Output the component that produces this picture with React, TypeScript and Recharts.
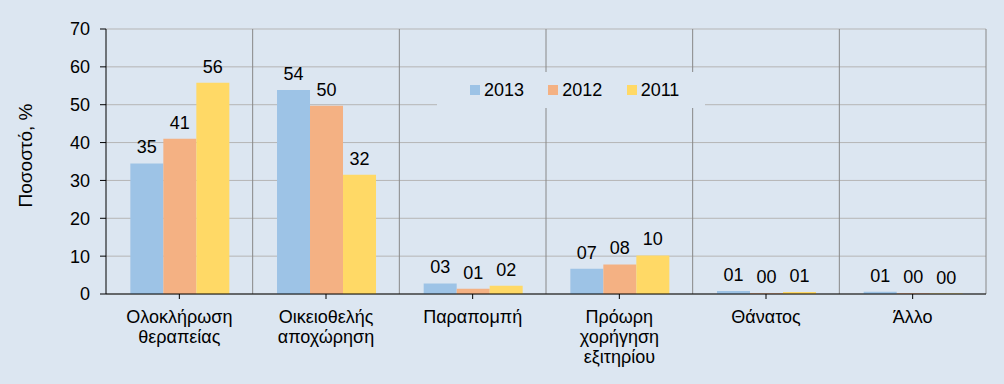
import { BarChart, Bar, XAxis, YAxis, CartesianGrid, Legend, LabelList, ReferenceLine } from "recharts";

const categories = [
  "Ολοκλήρωση\nθεραπείας",
  "Οικειοθελής\nαποχώρηση",
  "Παραπομπή",
  "Πρόωρη\nχορήγηση\nεξιτηρίου",
  "Θάνατος",
  "Άλλο",
];
const values2013 = [34.5, 53.9, 2.8, 6.7, 0.8, 0.6];
const values2012 = [41.0, 49.7, 1.4, 7.8, 0.2, 0.2];
const values2011 = [55.8, 31.5, 2.2, 10.2, 0.5, 0.1];
const yTicks = [0, 10, 20, 30, 40, 50, 60, 70];

const series = [
  { key: "y2013", name: "2013", color: "#9dc3e6", values: values2013 },
  { key: "y2012", name: "2012", color: "#f4b183", values: values2012 },
  { key: "y2011", name: "2011", color: "#ffd966", values: values2011 },
];

const table = categories.map((name, i) => {
  const row: Record<string, any> = { name, pos: i + 0.5 };
  series.forEach((s) => (row[s.key] = s.values[i]));
  return row;
});

const bg = "#dce6f1";
const font = "'Liberation Sans', Arial, sans-serif";

const fmt = (v: any) => String(Math.round(Number(v))).padStart(2, "0");

function CategoryTick({ x, y, payload }: any) {
  const lines = String(payload.value).split("\n");
  return (
    <g transform={`translate(${x},${y})`}>
      <text textAnchor="middle" fontSize={18} fill="#000" fontFamily={font}>
        {lines.map((l, i) => (
          <tspan key={i} x={0} dy={i === 0 ? 22 : 20}>
            {l}
          </tspan>
        ))}
      </text>
    </g>
  );
}

function LegendBox({ payload }: any) {
  const order = series.map((s) => s.name);
  const items = [...(payload || [])].sort((a: any, b: any) => order.indexOf(a.value) - order.indexOf(b.value));
  return (
    <div style={{ display: "flex", alignItems: "center", height: "100%", paddingLeft: 33, background: bg }}>
      {items.map((p: any) => (
        <div key={p.value} style={{ display: "flex", alignItems: "center", width: 87 }}>
          <span style={{ width: 10, height: 10, background: p.color, marginRight: 4 }} />
          <span style={{ fontSize: 18, color: "#000", fontFamily: font }}>{p.value}</span>
        </div>
      ))}
    </div>
  );
}

function AxisTitle({ viewBox }: any) {
  const cx = viewBox.x + 25;
  const cy = viewBox.y + viewBox.height / 2 - 6;
  return (
    <text x={cx} y={cy} transform={`rotate(-90 ${cx} ${cy})`} textAnchor="middle" dominantBaseline="central" fontSize={19} fontFamily={font} fill="#000">
      Ποσοστό, %
    </text>
  );
}

export default function App() {
  return (
    <div style={{ position: "absolute", left: 0, top: 0, width: 1004, height: 384, background: bg }}>
      <BarChart
        width={1004}
        height={384}
        data={table}
        margin={{ top: 29, right: 18, bottom: 60, left: 0 }}
        barCategoryGap="16.6%"
        barGap={0}
      >
        <CartesianGrid vertical={false} stroke="#b5b5b5" />
        <XAxis
          dataKey="name"
          interval={0}
          height={30}
          tick={<CategoryTick />}
          tickSize={5}
          stroke="#000"
          axisLine={{ stroke: "#000" }}
          tickLine={{ stroke: "#000" }}
        />
        <XAxis xAxisId="grid" type="number" dataKey="pos" domain={[0, categories.length]} hide />
        <YAxis
          width={106}
          domain={[0, 70]}
          ticks={yTicks}
          interval={0}
          tickSize={6}
          tickMargin={10}
          stroke="#000"
          tick={{ fill: "#000", fontSize: 18, fontFamily: font }}
          label={<AxisTitle />}
        />
        {categories.map((_, i) => (
          <ReferenceLine key={i} xAxisId="grid" x={i + 1} stroke="#888" />
        ))}
        <Legend
          layout="horizontal"
          verticalAlign="middle"
          align="center"
          content={<LegendBox />}
          wrapperStyle={{ position: "absolute", left: 437, top: 72, width: 268, height: 36, padding: 0 }}
        />
        {series.map((s) => (
          <Bar key={s.key} dataKey={s.key} name={s.name} fill={s.color} isAnimationActive={false}>
            <LabelList dataKey={s.key} position="top" offset={10} formatter={fmt} fill="#000" fontSize={18} fontFamily={font} />
          </Bar>
        ))}
      </BarChart>
    </div>
  );
}
